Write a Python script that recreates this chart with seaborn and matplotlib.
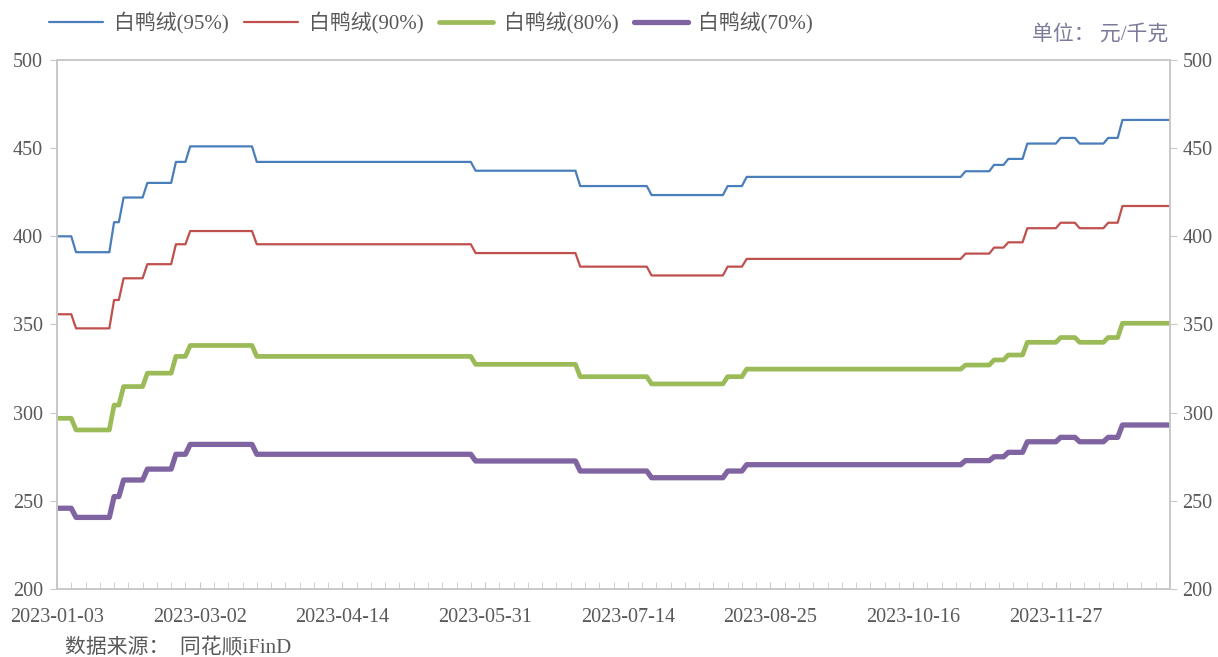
import numpy as np
import pandas as pd
import matplotlib
matplotlib.use("Agg")
import matplotlib.pyplot as plt
import seaborn as sns

# 交易日序号（0 = 2023-01-03），价格在这些位置发生变动
change_idx = [0, 4, 12, 14, 19, 25, 28, 42, 88, 110, 125, 141, 145,
              191, 197, 200, 204, 211, 215, 221, 224]
n_days = 235

down_95 = [400, 391, 408, 422, 430.3, 442.2, 451, 442.2, 437.2, 428.5, 423.4, 428.5, 433.7,
           436.9, 440.5, 443.9, 452.6, 455.8, 452.6, 455.8, 466]
down_90 = [355.8, 347.8, 363.9, 376.2, 384.2, 395.5, 403, 395.5, 390.5, 382.8, 377.8, 382.8, 387.2,
           390.2, 393.6, 396.6, 404.6, 407.7, 404.6, 407.7, 417.2]
down_80 = [296.8, 290.2, 304.3, 314.8, 322.4, 331.9, 338.1, 331.9, 327.4, 320.4, 316.3, 320.4, 324.7,
           327, 329.9, 332.7, 339.9, 342.6, 339.9, 342.6, 350.7]
down_70 = [245.8, 240.6, 252.4, 261.8, 268, 276.4, 282, 276.4, 272.6, 266.9, 263.1, 266.9, 270.5,
           272.8, 275, 277.5, 283.5, 286, 283.5, 286, 293]

tick_labels = ['2023-01-03', '2023-03-02', '2023-04-14', '2023-05-31',
               '2023-07-14', '2023-08-25', '2023-10-16', '2023-11-27']

series = {
    '白鸭绒(95%)': (down_95, '#4a7ebb', 1.6),
    '白鸭绒(90%)': (down_90, '#c0504d', 1.6),
    '白鸭绒(80%)': (down_80, '#9bbb59', 3.4),
    '白鸭绒(70%)': (down_70, '#8064a2', 3.8),
}


def expand(levels):
    # 阶梯价格 -> 每个交易日的值
    vals = np.empty(n_days)
    bounds = change_idx + [n_days]
    for k, v in enumerate(levels):
        vals[bounds[k]:bounds[k + 1]] = v
    return vals


rows = []
for name, (levels, _, _) in series.items():
    for i, v in enumerate(expand(levels)):
        rows.append({'day': i, 'price': v, 'name': name})
df = pd.DataFrame(rows)

sns.set_style('white')
plt.rcParams['font.family'] = ['Liberation Serif', 'Noto Sans CJK SC']

fig = plt.figure(figsize=(12.18, 6.57), dpi=100)
ax = fig.add_axes([0.0468, 0.1035, 0.9138, 0.8052])

for name, (levels, color, lw) in series.items():
    sns.lineplot(data=df[df['name'] == name], x='day', y='price', ax=ax,
                 color=color, linewidth=lw, label=name)

gray = '#595959'
spine_c = '#c8c8c8'
ax.set_xlim(0, n_days - 1)
ax.set_ylim(200, 500)
ax.set_yticks(range(200, 501, 50))
ax.set_xticks(range(0, n_days, 30))
ax.set_xticks(range(0, n_days, 3), minor=True)
ax.set_xticklabels(tick_labels)
ax.set_xlabel('')
ax.set_ylabel('')
for s in ax.spines.values():
    s.set_color(spine_c)
    s.set_linewidth(1.2)
ax.tick_params(axis='x', which='both', direction='in', length=5, color=spine_c,
               labelsize=14.5, labelcolor=gray, pad=13.5, bottom=True)
ax.tick_params(axis='y', direction='out', length=5, color=spine_c,
               labelsize=14.5, labelcolor=gray, pad=5, left=True)

ax2 = ax.twinx()
ax2.set_ylim(200, 500)
ax2.set_yticks(range(200, 501, 50))
for s in ax2.spines.values():
    s.set_color(spine_c)
    s.set_linewidth(1.2)
ax2.tick_params(axis='y', direction='out', length=5, color=spine_c,
                labelsize=14.5, labelcolor=gray, pad=4, right=True)

handles, labels = ax.get_legend_handles_labels()
ax.get_legend().remove()
leg = fig.legend(handles, labels, loc='center left', bbox_to_anchor=(0.025, 0.965),
                 ncol=4, frameon=False, fontsize=15, handlelength=2.6,
                 columnspacing=0.75, handletextpad=0.5)
for t in leg.get_texts():
    t.set_color(gray)

fig.text(0.959, 0.947, '单位： 元/千克', ha='right', va='center', fontsize=15, color='#7b7a9a')
fig.text(0.053, 0.014, '数据来源：  同花顺iFinD', ha='left', va='center', fontsize=15, color=gray)

fig.savefig('out.png', dpi=100)
